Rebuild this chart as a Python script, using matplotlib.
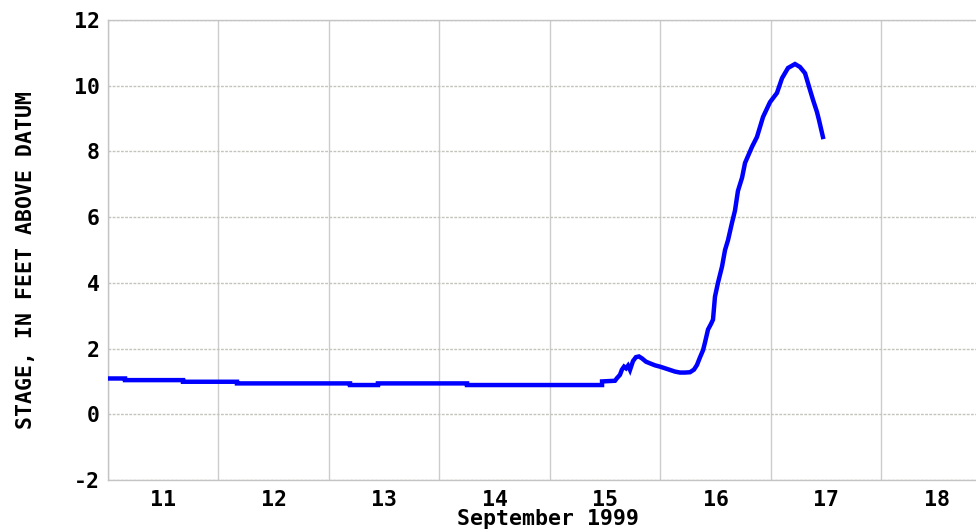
import matplotlib
matplotlib.use("Agg")
import matplotlib.pyplot as plt
import numpy as np

# Day of month (September 1999), fractional days
times = [11.0, 11.154, 11.154, 11.679, 11.679, 12.167, 12.167, 13.19, 13.19, 13.443,
         13.443, 14.249, 14.249, 15.471, 15.471, 15.588,
         15.606, 15.633, 15.651, 15.67, 15.688, 15.706, 15.724, 15.751, 15.778, 15.805,
         15.833, 15.869, 15.905, 15.95, 15.995, 16.041, 16.086, 16.131, 16.176, 16.222,
         16.267, 16.303, 16.33, 16.357, 16.385, 16.403, 16.43, 16.457, 16.475, 16.493,
         16.52, 16.557, 16.584, 16.611, 16.647, 16.674, 16.701, 16.738, 16.765, 16.828,
         16.873, 16.928, 16.991, 17.054, 17.1, 17.154, 17.217, 17.262, 17.308, 17.353,
         17.38, 17.416, 17.434, 17.47]
stage = [1.09, 1.09, 1.04, 1.04, 0.99, 0.99, 0.94, 0.94, 0.89, 0.89,
         0.94, 0.94, 0.89, 0.89, 1.00, 1.02,
         1.10, 1.20, 1.36, 1.45, 1.40, 1.48, 1.35, 1.62, 1.74, 1.76,
         1.70, 1.60, 1.55, 1.49, 1.45, 1.40, 1.35, 1.30, 1.27, 1.27,
         1.28, 1.36, 1.50, 1.73, 1.95, 2.19, 2.58, 2.75, 2.88, 3.58,
         4.0, 4.5, 5.0, 5.3, 5.83, 6.2, 6.8, 7.2, 7.65, 8.14,
         8.44, 9.05, 9.5, 9.78, 10.23, 10.54, 10.66, 10.57, 10.38, 9.87,
         9.57, 9.2, 8.96, 8.44]

day_labels = ["11", "12", "13", "14", "15", "16", "17", "18"]
y_ticks = [-2, 0, 2, 4, 6, 8, 10, 12]
x_label = "September 1999"
y_label = "STAGE, IN FEET ABOVE DATUM"

W, H = 976, 531
fig = plt.figure(figsize=(W / 100, H / 100), dpi=100)
ax = fig.add_axes([108 / W, 1 - 480 / H, 1 - 108 / W, (480 - 20) / H])

ax.plot(times, stage, color="#0000ff", lw=3.2, solid_joinstyle="miter", zorder=3)

ax.set_xlim(11.0, 11.0 + (W - 108) / 110.5)
ax.set_ylim(-2, 12)

ax.set_xticks(np.arange(11, 19))
ax.set_xticks([11.5 + i for i in range(len(day_labels))], minor=True)
ax.set_xticklabels([])
ax.set_xticklabels(day_labels, minor=True)
ax.set_yticks(y_ticks)
ax.set_yticklabels([str(v) for v in y_ticks])

fs = 15.5
for lab in ax.get_xticklabels(minor=True) + ax.get_yticklabels():
    lab.set_fontfamily("DejaVu Sans Mono")
    lab.set_fontweight("bold")
    lab.set_fontsize(fs)
ax.tick_params(axis="both", which="both", length=0)
ax.tick_params(axis="x", which="minor", pad=7)
ax.tick_params(axis="y", pad=6)

ax.grid(True, axis="x", which="major", color="#cccccc", lw=1.0, linestyle="-")
ax.grid(True, axis="y", which="major", color="#c4c4bc", lw=1.0, linestyle=(0, (2, 1)))
for s in ["left", "top", "bottom"]:
    ax.spines[s].set_color("#c4c4c4")
    ax.spines[s].set_linewidth(1.0)
ax.spines["right"].set_visible(False)

fig.text(548 / W, 1 - 519 / H, x_label, ha="center", va="center",
         family="DejaVu Sans Mono", weight="bold", fontsize=fs)
fig.text(26 / W, 1 - 260 / H, y_label, ha="center", va="center", rotation=90,
         family="DejaVu Sans Mono", weight="bold", fontsize=fs)

fig.savefig("out.png", dpi=100)
